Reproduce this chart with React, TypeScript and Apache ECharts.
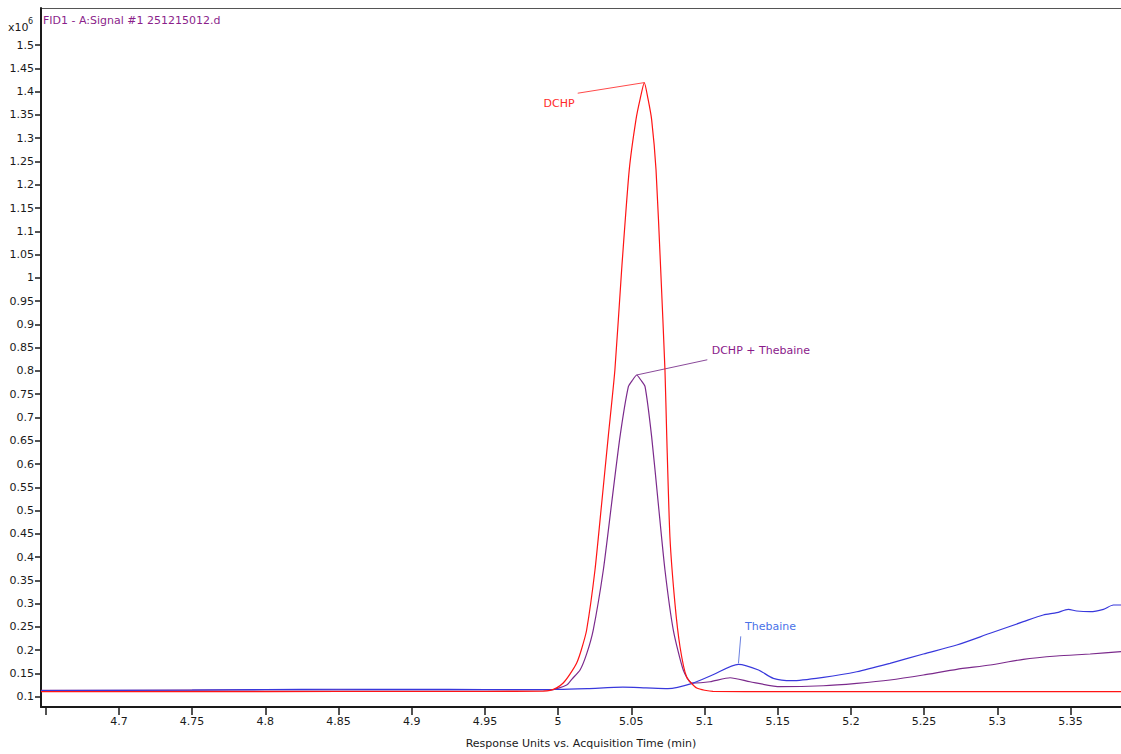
import React, { useEffect, useRef } from "react";
import * as echarts from "echarts";

// Axis ticks (x in min, y in x10^6 response units)
const xTickValues = [4.65, 4.7, 4.75, 4.8, 4.85, 4.9, 4.95, 5.0, 5.05, 5.1, 5.15, 5.2, 5.25, 5.3, 5.35];
const xLabelValues = [4.7, 4.75, 4.8, 4.85, 4.9, 4.95, 5.0, 5.05, 5.1, 5.15, 5.2, 5.25, 5.3, 5.35];
const yTickValues = [
  0.1, 0.15, 0.2, 0.25, 0.3, 0.35, 0.4, 0.45, 0.5, 0.55, 0.6, 0.65, 0.7, 0.75, 0.8,
  0.85, 0.9, 0.95, 1.0, 1.05, 1.1, 1.15, 1.2, 1.25, 1.3, 1.35, 1.4, 1.45, 1.5,
];

// DCHP (red)
const dchpTimes = [
  4.6468, 4.75, 4.85, 4.95, 4.99, 4.9945, 4.999, 5.0035, 5.008, 5.0127, 5.016, 5.0195, 5.0252, 5.0298, 5.0343,
  5.0388, 5.0434, 5.0486, 5.0532, 5.0561, 5.0589, 5.0614, 5.0639, 5.0669, 5.0701, 5.073, 5.0742, 5.0764,
  5.0798, 5.0833, 5.0878, 5.0947, 5.1058, 5.15, 5.25, 5.3845,
];
const dchpValues = [
  0.111, 0.111, 0.1112, 0.1112, 0.1118, 0.1135, 0.119, 0.1294, 0.148, 0.1724, 0.202, 0.2433, 0.3723, 0.5163, 0.66,
  0.802, 1.017, 1.232, 1.34, 1.385, 1.4195, 1.385, 1.34, 1.232, 1.017, 0.802, 0.662, 0.443,
  0.301, 0.2068, 0.1423, 0.1187, 0.1115, 0.111, 0.111, 0.111,
];

// DCHP + Thebaine (purple)
const mixTimes = [
  4.6468, 4.75, 4.85, 4.95, 4.9945, 5.0059, 5.0095, 5.015, 5.0195, 5.024, 5.0309, 5.0366, 5.0423, 5.048,
  5.0509, 5.0537, 5.0565, 5.0594, 5.0639, 5.0684, 5.073, 5.0787, 5.0855, 5.0913, 5.1038, 5.1175, 5.1311,
  5.1516, 5.1812, 5.204, 5.2267, 5.2495, 5.2723, 5.2951, 5.3178, 5.3406, 5.3634, 5.3845,
];
const mixValues = [
  0.1135, 0.1142, 0.1148, 0.1146, 0.1144, 0.1251, 0.138, 0.1574, 0.192, 0.2433, 0.3723, 0.5163, 0.6588, 0.7662,
  0.7805, 0.7913, 0.7805, 0.7662, 0.6588, 0.5163, 0.3723, 0.2433, 0.1574, 0.1294, 0.1322, 0.1408, 0.1322,
  0.1215, 0.1236, 0.1288, 0.1359, 0.1466, 0.1589, 0.1681, 0.1804, 0.1875, 0.1918, 0.1967,
];

// Thebaine (blue)
const thebTimes = [
  4.6468, 4.75, 4.8, 4.85, 4.9, 4.95, 5.0, 5.02, 5.0443, 5.06, 5.075, 5.0917, 5.1054,
  5.1232, 5.1369, 5.147, 5.1597, 5.1812, 5.204, 5.2267, 5.2495, 5.2723, 5.2951, 5.3178,
  5.3314, 5.3406, 5.3485, 5.3542, 5.3634, 5.3725, 5.3793, 5.3845,
];
const thebValues = [
  0.1132, 0.1144, 0.1155, 0.116, 0.1158, 0.1155, 0.1158, 0.1175, 0.1205, 0.119, 0.1175, 0.1288, 0.1466,
  0.1696, 0.1574, 0.1395, 0.1345, 0.1417, 0.1537, 0.1718, 0.1918, 0.2111, 0.2363, 0.2612,
  0.2756, 0.2805, 0.2878, 0.2842, 0.2827, 0.2878, 0.2971, 0.2971,
];

const FONT = '"DejaVu Sans", Verdana, sans-serif';
const RED = "#ff1414";
const PURPLE = "#7b2a8c";
const BLUE = "#3838dc";

const pairs = (t: number[], v: number[]) => t.map((x, i) => [x, v[i]]);

function apex(t: number[], v: number[], lo: number, hi: number) {
  let best = -1;
  for (let i = 0; i < t.length; i++) {
    if (t[i] >= lo && t[i] <= hi && (best < 0 || v[i] > v[best])) best = i;
  }
  return [t[best], v[best]];
}

export default function App() {
  const ref = useRef<HTMLDivElement>(null);
  useEffect(() => {
    if (!ref.current) return;
    const chart = echarts.init(ref.current, undefined, { renderer: "svg" });
    chart.setOption({
      animation: false,
      backgroundColor: "#ffffff",
      grid: { left: 41, right: 0, top: 8, bottom: 47, containLabel: false },
      xAxis: {
        type: "value",
        min: 4.6468,
        max: 5.3845,
        name: "Response Units vs. Acquisition Time (min)",
        nameLocation: "middle",
        nameGap: 31,
        nameTextStyle: { fontFamily: FONT, fontSize: 11, color: "#1a1a1a" },
        axisLine: { show: true, onZero: false, lineStyle: { color: "#1a1a1a", width: 2 } },
        axisTick: { show: true, customValues: xTickValues, length: 8, lineStyle: { color: "#1a1a1a", width: 1.5 } },
        axisLabel: {
          customValues: xLabelValues,
          margin: 9,
          fontFamily: FONT,
          fontSize: 11,
          color: "#1a1a1a",
          formatter: (v: number) => String(parseFloat(v.toFixed(2))),
        },
        splitLine: { show: false },
      },
      yAxis: {
        type: "value",
        min: 0.0779,
        max: 1.5798,
        axisLine: { show: true, onZero: false, lineStyle: { color: "#1a1a1a", width: 2 } },
        axisTick: { show: true, customValues: yTickValues, length: 6, lineStyle: { color: "#1a1a1a", width: 1.5 } },
        axisLabel: {
          customValues: yTickValues,
          margin: 7,
          fontFamily: FONT,
          fontSize: 11,
          color: "#1a1a1a",
          formatter: (v: number) => String(parseFloat(v.toFixed(2))),
        },
        splitLine: { show: false },
      },
      series: [
        {
          name: "DCHP + Thebaine",
          type: "line",
          data: pairs(mixTimes, mixValues),
          showSymbol: false,
          smooth: 0.2,
          lineStyle: { color: PURPLE, width: 1.2 },
        },
        {
          name: "Thebaine",
          type: "line",
          data: pairs(thebTimes, thebValues),
          showSymbol: false,
          smooth: 0.25,
          lineStyle: { color: BLUE, width: 1.2 },
        },
        {
          name: "DCHP",
          type: "line",
          data: pairs(dchpTimes, dchpValues),
          showSymbol: false,
          smooth: 0.2,
          lineStyle: { color: RED, width: 1.2 },
        },
      ],
    });

    const pRed = chart.convertToPixel({ gridIndex: 0 }, apex(dchpTimes, dchpValues, 5.0, 5.1)) as number[];
    const pMix = chart.convertToPixel({ gridIndex: 0 }, apex(mixTimes, mixValues, 5.0, 5.1)) as number[];
    const pThe = chart.convertToPixel({ gridIndex: 0 }, apex(thebTimes, thebValues, 5.1, 5.15)) as number[];

    const txt = (text: string, x: number, y: number, fill: string, align = "left", size = 11) => ({
      type: "text",
      x,
      y,
      silent: true,
      style: { text, fill, font: `${size}px ${FONT}`, align, verticalAlign: "middle" },
    });
    const ln = (x1: number, y1: number, x2: number, y2: number, stroke: string) => ({
      type: "line",
      silent: true,
      shape: { x1, y1, x2, y2 },
      style: { stroke, lineWidth: 1 },
    });

    chart.setOption({
      graphic: [
        ln(40, 8.5, 1121, 8.5, "#555"),
        txt("FID1 - A:Signal #1 251215012.d", 43, 20, "#8b1f8b"),
        txt("x10", 8, 27, "#1a1a1a"),
        txt("6", 28, 21, "#1a1a1a", "left", 8),
        ln(pRed[0], pRed[1], pRed[0] - 66.6, pRed[1] + 10.6, "#ff4a4a"),
        txt("DCHP", pRed[0] - 85.3, pRed[1] + 21.3, "#ff2a2a", "center"),
        ln(pMix[0], pMix[1], pMix[0] + 70.6, pMix[1] - 15.2, "#8a4a9a"),
        txt("DCHP + Thebaine", pMix[0] + 75, pMix[1] - 24, "#8a1a8a"),
        ln(pThe[0], pThe[1] - 1, pThe[0] + 2.3, pThe[1] - 28, "#6a80e0"),
        txt("Thebaine", pThe[0] + 6.6, pThe[1] - 38, "#4a72e8"),
      ],
    });

    return () => chart.dispose();
  }, []);

  return (
    <div
      ref={ref}
      style={{ position: "fixed", left: 0, top: 0, width: 1121, height: 754, background: "#fff" }}
    />
  );
}
